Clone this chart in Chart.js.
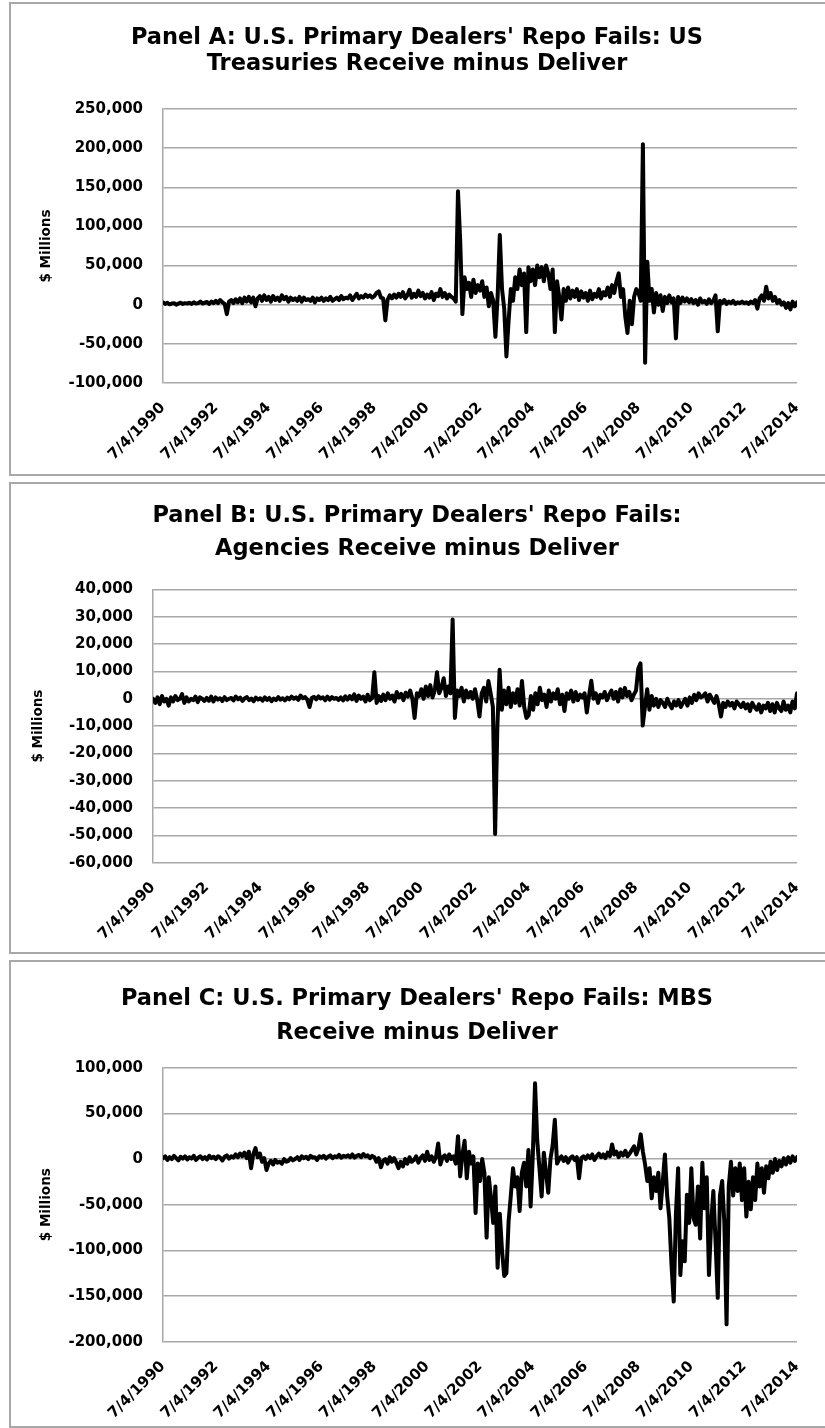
<!DOCTYPE html>
<html>
<head>
<meta charset="utf-8">
<script src="https://cdn.jsdelivr.net/npm/chart.js@4.4.0/dist/chart.umd.min.js"></script>
<style>
    body { margin: 0; background: #ffffff; width: 825px; height: 1428px; overflow: hidden; position: relative; }
    .box { position: absolute; left: 9px; width: 830px; border: 2px solid #a8a8a8; box-sizing: border-box; }
    canvas { position: absolute; left: 12px; }
</style>
</head>
<body>
<div class="box" style="top:2px;height:474px"></div>
<div class="box" style="top:482px;height:472px"></div>
<div class="box" style="top:960px;height:468px"></div>
<canvas id="chartA" width="810" height="467" style="top:5px"></canvas>
<canvas id="chartB" width="810" height="465" style="top:485px"></canvas>
<canvas id="chartC" width="810" height="462" style="top:963px"></canvas>
<script>
// tick labels on the date axis (every 24 months, starting 7/4/1990)
const tickLabels = ["7/4/1990", "7/4/1992", "7/4/1994", "7/4/1996", "7/4/1998", "7/4/2000",
    "7/4/2002", "7/4/2004", "7/4/2006", "7/4/2008", "7/4/2010", "7/4/2012", "7/4/2014"];

// monthly readings, Jul 1990 .. Jul 2014 ($ millions), one row per year
const treasuries = [
    3000, 1000, 2500, 500, 1500, 2000, 0, 1500, 2500, 1000, 2000, 1500,
    2500, 1000, 3000, 1500, 2000, 4000, 1500, 2500, 3500, 1000, 4000, 2000,
    5000, 2000, 6000, 3000, 1000, -12000, 4000, 6000, 2000, 7000, 3000, 8000,
    2000, 9000, 4000, 10000, 3000, 9000, -2000, 8000, 11000, 5000, 12000, 6000,
    10000, 4000, 11000, 6000, 9000, 5000, 12000, 7000, 10000, 4000, 9000, 6000,
    8000, 5000, 10000, 4000, 9000, 6000, 7000, 5000, 9000, 3000, 8000, 6000,
    9000, 5000, 8000, 6000, 10000, 5000, 7000, 9000, 6000, 11000, 7000, 9000,
    8000, 12000, 6000, 10000, 14000, 8000, 11000, 9000, 13000, 10000, 12000, 9000,
    11000, 15000, 17000, 9000, 8000, -20000, 6000, 12000, 8000, 13000, 9000, 14000,
    10000, 16000, 8000, 12000, 19000, 9000, 14000, 10000, 18000, 11000, 15000, 8000,
    13000, 9000, 16000, 6000, 14000, 11000, 20000, 10000, 15000, 8000, 13000, 10000,
    8000, 4000, 145000, 82000, -12000, 35000, 20000, 28000, 10000, 32000, 15000, 25000,
    18000, 30000, 10000, 22000, -2000, 15000, 5000, -41000, 10000, 89000, 20000, -5000,
    -66000, -20000, 20000, 5000, 35000, 20000, 45000, 25000, 40000, -35000, 48000, 30000,
    45000, 25000, 50000, 35000, 48000, 30000, 50000, 40000, 20000, 45000, -35000, 30000,
    10000, -19000, 20000, 5000, 22000, 8000, 18000, 10000, 20000, 6000, 17000, 9000,
    15000, 5000, 18000, 7000, 14000, 10000, 20000, 8000, 16000, 12000, 22000, 10000,
    25000, 15000, 30000, 40000, 10000, 20000, -15000, -36000, 5000, -25000, 10000, 20000,
    15000, 5000, 205000, -74000, 55000, 5000, 20000, -10000, 15000, 0, 12000, -8000,
    10000, 2000, 12000, 3000, 8000, -43000, 10000, 2000, 9000, 4000, 8000, 3000,
    7000, 2000, 6000, 0, 8000, 3000, 5000, 1000, 7000, 2000, 5000, 12000,
    -34000, 5000, 2000, 6000, 1000, 4000, 2000, 5000, 1000, 3000, 2000, 4000,
    2000, 3000, 1000, 4000, 2000, 6000, -5000, 8000, 12000, 5000, 23000, 8000,
    15000, 5000, 10000, 2000, 6000, 0, 3000, -4000, 2000, -6000, 4000, -2000,
    3000
];

const agencies = [
    0, -1500, 500, -2000, 1000, -1000, 0, -2500, 500, -1000, 1000, -500,
    0, 1700, -1500, 500, -1000, 0, -500, 800, -1200, 500, 0, -800,
    300, -700, 800, -1000, 500, -300, 200, -800, 600, -500, 0, 300,
    -600, 800, -200, 400, -800, 200, 600, -500, 100, -900, 400, -300,
    200, -700, 500, -400, 300, -900, 100, -500, 600, -300, 200, -600,
    400, -200, 800, 0, 500, -400, 1200, 200, 600, -300, -3000, 300,
    700, -200, 900, 100, 500, -500, 800, -300, 600, 0, 300, -400,
    500, -600, 900, -300, 1000, -200, 1600, -800, 1200, 0, 800, -1000,
    1500, -500, 300, 9700, -1500, 1000, -800, 1500, -500, 2000, 0, 1200,
    -1000, 2500, 500, 1800, -500, 2200, 800, 3000, 0, -7000, 2000, 1000,
    3500, 0, 4500, 1000, 5000, 500, 3000, 9700, 2000, 4000, 7500, 1000,
    4500, 2000, 29000, -7000, 3000, 1000, 4000, -1000, 3000, 500, 2500, 0,
    3500, -500, -6500, 2000, 4000, -1000, 6500, 2000, -3000, -49500, -10000, 10600,
    -4000, 3000, -2000, 4000, -3000, 2000, -1500, 3500, -2500, 6500, -3000, -7000,
    -6000, 1000, -4000, 2000, -2000, 4000, -500, 1500, -3000, 3000, -1000, 2000,
    0, 3500, -2000, 1500, -4500, 2000, 0, 3000, -1000, 2500, -500, 1500,
    500, 2000, -5000, 1000, 6600, 0, 2000, -1500, 1500, 500, 2500, -500,
    1500, 3000, 0, 2500, -1000, 3500, 500, 4000, 1000, 2500, -500, 1500,
    3000, 11000, 13000, -9800, -3000, 3500, -4000, 1000, -2500, 0, -3000, -500,
    -1500, -3000, 0, -2000, -3500, -1000, -2500, -500, -3000, -1500, 0, -2500,
    500, -1500, 1500, -500, 2000, 500, 1000, 2000, -1000, 1500, 0, -1500,
    1000, -2000, -6500, -1500, -3000, -1000, -2500, -1500, -3500, -1000, -2000, -3000,
    -1500, -3500, -2000, -4500, -1500, -3000, -4000, -2000, -5000, -2500, -3500, -1500,
    -4500, -2000, -5000, -1500, -3500, -4500, -1000, -4000, -2500, -5000, -1000, -3500,
    2000
];

const mbs = [
    1000, 3000, -1000, 2000, 0, 3500, 1000, -1500, 2500, 500, 3000, -500,
    2000, 500, 3500, -1000, 1500, 3000, 0, 2000, -500, 3500, 1000, 2500,
    0, 3000, 1500, -1500, 2500, 4000, 500, 3000, 1500, 5000, 2000, 6000,
    3000, 7000, 1000, 8000, -10000, 5000, 12000, 2000, 6000, -3000, 1000, -12000,
    -5000, -2000, -6000, -1000, -4000, -3000, -5000, 0, -3000, -2000, 1000, -1500,
    0, 2000, -1000, 3000, 1000, 2500, 0, 3500, 1500, 2000, -1000, 3000,
    1500, 3500, 500, 2500, 4000, 1000, 3000, 2000, 4500, 1500, 3500, 2500,
    4000, 2000, 5000, 1500, 3500, 4500, 2000, 5500, 3000, 4000, 1000, 3500,
    2000, -3000, 1000, -9000, -2000, 0, -5000, 2000, -3000, 1000, -4000, -10000,
    -3000, -8000, 0, -5000, 2000, -3000, -1000, 3000, -4000, 1000, 4000, -2000,
    8000, -1000, 3000, -3000, 2000, 17000, -6000, 2000, 4000, -2000, 5000, 0,
    3000, -5000, 25000, -19000, 5000, 20000, -21000, 8000, -5000, 3000, -59000, -5000,
    -24000, 0, -15000, -86000, -20000, -43000, -70000, -30000, -119000, -60000, -100000, -128000,
    -125000, -68000, -40000, -10000, -30000, -20000, -57000, -15000, -4000, -30000, 10000, -52000,
    5000, 83000, 20000, -10000, -41000, 7000, -15000, -37000, 0, 15000, 43000, -5000,
    0, 3000, -2000, 2000, -4000, 1000, 3000, -1000, 2000, -21000, 1000, 3000,
    0, 4000, 1000, 5000, -1000, 3000, 6000, 2000, 5000, 1000, 7000, 3000,
    16000, 5000, 8000, 2000, 7000, 4000, 9000, 3000, 6000, 10000, 14000, 5000,
    12000, 27000, 8000, -6000, -24000, -10000, -43000, -20000, -35000, -15000, -54000, -25000,
    5000, -40000, -65000, -116000, -156000, -60000, -10000, -127000, -90000, -112000, -39000, -70000,
    -10000, -65000, -72000, -30000, -87000, -4000, -54000, -20000, -127000, -70000, -35000, -90000,
    -152000, -40000, -24000, -70000, -181000, -30000, -3000, -40000, -10000, -35000, -5000, -45000,
    -10000, -63000, -25000, -55000, -20000, -45000, -5000, -30000, -10000, -37000, -8000, -21000,
    -3000, -15000, 0, -12000, -2000, -8000, 1000, -6000, 2000, -4000, 3000, -2000,
    2000
];

document.addEventListener("DOMContentLoaded", function () {
    Chart.defaults.font.family = "'DejaVu Sans', sans-serif";
    Chart.defaults.font.weight = "bold";
    Chart.defaults.color = "#000000";

    const gridColor = "#a8a8a8";

    function createPanel(id, title, values, yMin, yMax, yStep, lay) {
        var ctx = document.getElementById(id).getContext("2d");
        var canvasHeight = ctx.canvas.height;
        return new Chart(ctx, {
            type: "line",
            data: {
                datasets: [
                    {
                        data: values.map(function (v, i) { return { x: i, y: v }; }),
                        borderColor: "#000000",
                        borderWidth: 4,
                        borderJoinStyle: "round",
                        borderCapStyle: "round",
                        pointRadius: 0,
                        tension: 0,
                        fill: false,
                    },
                ],
            },
            options: {
                responsive: false,
                animation: false,
                devicePixelRatio: 1,
                plugins: {
                    legend: { display: false },
                    tooltip: { enabled: false },
                    title: {
                        display: true,
                        text: title,
                        color: "#000000",
                        font: { size: 22.5, weight: "bold", lineHeight: lay.titleLine / 22.5 },
                        padding: { top: lay.titleTop, bottom: lay.plotTop - 2 * lay.titleLine - lay.titleTop },
                    },
                },
                scales: {
                    x: {
                        type: "linear",
                        min: 0,
                        max: values.length - 1,
                        grid: { display: false },
                        border: { display: false },
                        ticks: {
                            stepSize: 24,
                            autoSkip: false,
                            maxRotation: 45,
                            minRotation: 45,
                            padding: 8,
                            font: { size: 15, weight: "bold" },
                            callback: function (value) {
                                return tickLabels[value / 24];
                            },
                        },
                        afterFit: function (scale) {
                            scale.height = canvasHeight - lay.plotBottom;
                            scale.paddingLeft = 0;
                            scale.paddingRight = 0;
                        },
                    },
                    y: {
                        min: yMin,
                        max: yMax,
                        grid: { color: gridColor, lineWidth: 1.5, drawTicks: false },
                        border: { display: true, color: gridColor, width: 1.5 },
                        ticks: {
                            stepSize: yStep,
                            padding: 20,
                            font: { size: 15, weight: "bold" },
                            callback: function (value) {
                                return value.toLocaleString("en-US");
                            },
                        },
                        title: {
                            display: true,
                            text: "$ Millions",
                            font: { size: 13.5, weight: "bold" },
                            padding: { top: lay.yTitleX, bottom: 0 },
                        },
                        afterFit: function (scale) {
                            scale.width = lay.plotLeft;
                            scale.paddingTop = 0;
                            scale.paddingBottom = 0;
                        },
                    },
                    // empty right-hand axis: keeps the plot off the right border without moving the title
                    yRight: {
                        position: "right",
                        grid: { display: false },
                        border: { display: false },
                        ticks: { display: false },
                        afterFit: function (scale) {
                            scale.width = 25;
                        },
                    },
                },
            },
        });
    }

    createPanel("chartA",
        ["Panel A: U.S. Primary Dealers' Repo Fails: US", "Treasuries Receive minus Deliver"],
        treasuries, -100000, 250000, 50000,
        { plotLeft: 151, plotTop: 104, plotBottom: 378, titleTop: 20, titleLine: 26, yTitleX: 26 });

    createPanel("chartB",
        ["Panel B: U.S. Primary Dealers' Repo Fails:", "Agencies Receive minus Deliver"],
        agencies, -60000, 40000, 10000,
        { plotLeft: 141, plotTop: 104.5, plotBottom: 377.7, titleTop: 15, titleLine: 33, yTitleX: 18 });

    createPanel("chartC",
        ["Panel C: U.S. Primary Dealers' Repo Fails: MBS", "Receive minus Deliver"],
        mbs, -200000, 100000, 50000,
        { plotLeft: 151, plotTop: 104.7, plotBottom: 378.7, titleTop: 19, titleLine: 34, yTitleX: 26 });
});
</script>
</body>
</html>
